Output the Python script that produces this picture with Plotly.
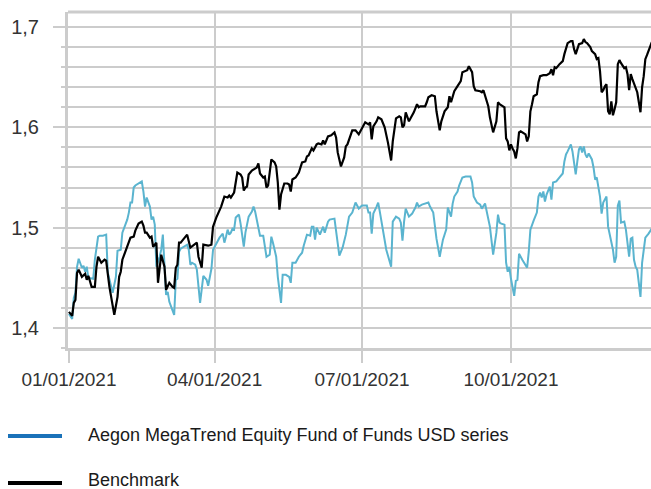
import plotly.graph_objects as go

# ---------------- data ----------------
BENCHMARK = [
    ("2021-01-01", 1.416), ("2021-01-03", 1.412), ("2021-01-04", 1.425), ("2021-01-05", 1.428),
    ("2021-01-06", 1.455), ("2021-01-07", 1.458), ("2021-01-09", 1.451), ("2021-01-11", 1.454),
    ("2021-01-12", 1.448), ("2021-01-13", 1.452), ("2021-01-15", 1.441), ("2021-01-17", 1.441),
    ("2021-01-18", 1.461), ("2021-01-19", 1.471), ("2021-01-21", 1.465), ("2021-01-23", 1.468),
    ("2021-01-24", 1.467), ("2021-01-26", 1.441), ("2021-01-29", 1.413), ("2021-01-31", 1.431),
    ("2021-02-01", 1.451), ("2021-02-02", 1.456), ("2021-02-03", 1.468), ("2021-02-06", 1.480),
    ("2021-02-08", 1.490), ("2021-02-10", 1.491), ("2021-02-11", 1.497), ("2021-02-13", 1.504),
    ("2021-02-15", 1.506), ("2021-02-16", 1.502), ("2021-02-17", 1.495), ("2021-02-18", 1.495),
    ("2021-02-20", 1.490), ("2021-02-21", 1.491), ("2021-02-22", 1.481), ("2021-02-24", 1.485),
    ("2021-02-25", 1.445), ("2021-02-27", 1.473), ("2021-03-01", 1.461), ("2021-03-02", 1.438),
    ("2021-03-04", 1.445), ("2021-03-06", 1.441), ("2021-03-07", 1.440), ("2021-03-08", 1.460),
    ("2021-03-09", 1.463), ("2021-03-10", 1.485), ("2021-03-11", 1.485), ("2021-03-12", 1.487),
    ("2021-03-15", 1.493), ("2021-03-17", 1.480), ("2021-03-19", 1.483), ("2021-03-21", 1.485),
    ("2021-03-22", 1.471), ("2021-03-24", 1.460), ("2021-03-25", 1.483), ("2021-03-28", 1.482),
    ("2021-03-30", 1.483), ("2021-03-31", 1.501), ("2021-04-02", 1.510), ("2021-04-05", 1.521),
    ("2021-04-07", 1.531), ("2021-04-09", 1.530), ("2021-04-10", 1.532), ("2021-04-11", 1.530),
    ("2021-04-13", 1.535), ("2021-04-14", 1.546), ("2021-04-15", 1.555), ("2021-04-17", 1.553),
    ("2021-04-18", 1.550), ("2021-04-19", 1.537), ("2021-04-20", 1.540), ("2021-04-21", 1.541),
    ("2021-04-22", 1.553), ("2021-04-24", 1.557), ("2021-04-25", 1.558), ("2021-04-27", 1.560),
    ("2021-04-28", 1.564), ("2021-04-29", 1.554), ("2021-04-30", 1.552), ("2021-05-01", 1.550),
    ("2021-05-02", 1.551), ("2021-05-03", 1.540), ("2021-05-04", 1.542), ("2021-05-05", 1.555),
    ("2021-05-06", 1.568), ("2021-05-08", 1.565), ("2021-05-09", 1.561), ("2021-05-10", 1.545),
    ("2021-05-11", 1.518), ("2021-05-12", 1.533), ("2021-05-14", 1.544), ("2021-05-16", 1.544),
    ("2021-05-17", 1.543), ("2021-05-18", 1.536), ("2021-05-19", 1.548), ("2021-05-21", 1.550),
    ("2021-05-23", 1.555), ("2021-05-24", 1.560), ("2021-05-25", 1.565), ("2021-05-27", 1.566),
    ("2021-05-28", 1.571), ("2021-05-29", 1.572), ("2021-05-30", 1.575), ("2021-05-31", 1.579),
    ("2021-06-01", 1.577), ("2021-06-03", 1.583), ("2021-06-04", 1.584), ("2021-06-06", 1.583),
    ("2021-06-07", 1.587), ("2021-06-08", 1.583), ("2021-06-10", 1.591), ("2021-06-12", 1.592),
    ("2021-06-14", 1.595), ("2021-06-15", 1.590), ("2021-06-16", 1.575), ("2021-06-18", 1.561),
    ("2021-06-20", 1.570), ("2021-06-21", 1.581), ("2021-06-22", 1.583), ("2021-06-24", 1.594),
    ("2021-06-25", 1.597), ("2021-06-27", 1.597), ("2021-06-29", 1.593), ("2021-07-01", 1.599),
    ("2021-07-02", 1.603), ("2021-07-03", 1.605), ("2021-07-05", 1.603), ("2021-07-06", 1.605),
    ("2021-07-07", 1.588), ("2021-07-08", 1.601), ("2021-07-10", 1.606), ("2021-07-11", 1.610),
    ("2021-07-13", 1.608), ("2021-07-15", 1.600), ("2021-07-17", 1.585), ("2021-07-19", 1.567),
    ("2021-07-20", 1.586), ("2021-07-21", 1.596), ("2021-07-22", 1.609), ("2021-07-24", 1.611),
    ("2021-07-25", 1.610), ("2021-07-26", 1.600), ("2021-07-27", 1.602), ("2021-07-28", 1.615),
    ("2021-07-30", 1.606), ("2021-07-31", 1.609), ("2021-08-01", 1.612), ("2021-08-02", 1.615),
    ("2021-08-04", 1.623), ("2021-08-05", 1.620), ("2021-08-06", 1.621), ("2021-08-09", 1.621),
    ("2021-08-10", 1.625), ("2021-08-11", 1.630), ("2021-08-13", 1.632), ("2021-08-15", 1.631),
    ("2021-08-16", 1.616), ("2021-08-18", 1.597), ("2021-08-19", 1.606), ("2021-08-21", 1.616),
    ("2021-08-23", 1.620), ("2021-08-24", 1.631), ("2021-08-25", 1.625), ("2021-08-26", 1.632),
    ("2021-08-27", 1.636), ("2021-08-29", 1.641), ("2021-08-31", 1.646), ("2021-09-01", 1.655),
    ("2021-09-04", 1.657), ("2021-09-05", 1.661), ("2021-09-07", 1.655), ("2021-09-08", 1.641),
    ("2021-09-09", 1.637), ("2021-09-12", 1.636), ("2021-09-13", 1.635), ("2021-09-14", 1.637),
    ("2021-09-15", 1.632), ("2021-09-17", 1.621), ("2021-09-18", 1.610), ("2021-09-20", 1.595),
    ("2021-09-22", 1.606), ("2021-09-23", 1.625), ("2021-09-24", 1.623), ("2021-09-27", 1.620),
    ("2021-09-28", 1.589), ("2021-09-29", 1.586), ("2021-09-30", 1.577), ("2021-10-01", 1.583),
    ("2021-10-02", 1.579), ("2021-10-03", 1.576), ("2021-10-04", 1.569), ("2021-10-05", 1.579),
    ("2021-10-06", 1.595), ("2021-10-07", 1.596), ("2021-10-10", 1.593), ("2021-10-11", 1.586),
    ("2021-10-12", 1.591), ("2021-10-13", 1.616), ("2021-10-14", 1.623), ("2021-10-15", 1.631),
    ("2021-10-17", 1.633), ("2021-10-18", 1.645), ("2021-10-19", 1.651), ("2021-10-21", 1.652),
    ("2021-10-23", 1.652), ("2021-10-25", 1.654), ("2021-10-26", 1.658), ("2021-10-27", 1.652),
    ("2021-10-28", 1.660), ("2021-10-29", 1.659), ("2021-10-31", 1.663), ("2021-11-02", 1.666),
    ("2021-11-03", 1.673), ("2021-11-04", 1.679), ("2021-11-05", 1.684), ("2021-11-07", 1.686),
    ("2021-11-08", 1.686), ("2021-11-09", 1.678), ("2021-11-10", 1.673), ("2021-11-11", 1.678),
    ("2021-11-12", 1.683), ("2021-11-14", 1.684), ("2021-11-15", 1.688), ("2021-11-16", 1.685),
    ("2021-11-17", 1.684), ("2021-11-19", 1.680), ("2021-11-20", 1.676), ("2021-11-22", 1.673),
    ("2021-11-23", 1.668), ("2021-11-24", 1.669), ("2021-11-25", 1.656), ("2021-11-26", 1.635),
    ("2021-11-27", 1.637), ("2021-11-28", 1.641), ("2021-11-29", 1.643), ("2021-11-30", 1.616),
    ("2021-12-01", 1.613), ("2021-12-02", 1.626), ("2021-12-03", 1.612), ("2021-12-04", 1.618),
    ("2021-12-05", 1.625), ("2021-12-06", 1.663), ("2021-12-07", 1.667), ("2021-12-08", 1.664),
    ("2021-12-10", 1.659), ("2021-12-11", 1.660), ("2021-12-12", 1.653), ("2021-12-13", 1.637),
    ("2021-12-14", 1.653), ("2021-12-15", 1.648), ("2021-12-18", 1.635), ("2021-12-20", 1.615),
    ("2021-12-21", 1.640), ("2021-12-22", 1.651), ("2021-12-23", 1.668), ("2021-12-24", 1.672),
    ("2021-12-26", 1.681), ("2021-12-27", 1.685),
]

FUND = [
    ("2021-01-01", 1.414), ("2021-01-03", 1.409), ("2021-01-04", 1.430), ("2021-01-05", 1.435),
    ("2021-01-06", 1.461), ("2021-01-07", 1.469), ("2021-01-09", 1.460), ("2021-01-10", 1.462),
    ("2021-01-11", 1.456), ("2021-01-12", 1.461), ("2021-01-13", 1.450), ("2021-01-16", 1.449),
    ("2021-01-17", 1.468), ("2021-01-19", 1.491), ("2021-01-20", 1.492), ("2021-01-22", 1.492),
    ("2021-01-24", 1.493), ("2021-01-25", 1.455), ("2021-01-28", 1.435), ("2021-01-30", 1.451),
    ("2021-01-31", 1.477), ("2021-02-02", 1.478), ("2021-02-03", 1.495), ("2021-02-06", 1.508),
    ("2021-02-07", 1.515), ("2021-02-08", 1.525), ("2021-02-09", 1.525), ("2021-02-10", 1.540),
    ("2021-02-11", 1.542), ("2021-02-13", 1.544), ("2021-02-15", 1.546), ("2021-02-16", 1.536),
    ("2021-02-17", 1.521), ("2021-02-18", 1.530), ("2021-02-20", 1.521), ("2021-02-21", 1.508),
    ("2021-02-22", 1.511), ("2021-02-23", 1.503), ("2021-02-24", 1.461), ("2021-02-26", 1.471),
    ("2021-02-27", 1.478), ("2021-02-28", 1.493), ("2021-03-01", 1.455), ("2021-03-02", 1.433),
    ("2021-03-03", 1.436), ("2021-03-04", 1.426), ("2021-03-07", 1.413), ("2021-03-08", 1.448),
    ("2021-03-09", 1.449), ("2021-03-10", 1.476), ("2021-03-11", 1.479), ("2021-03-13", 1.481),
    ("2021-03-15", 1.483), ("2021-03-16", 1.478), ("2021-03-17", 1.463), ("2021-03-18", 1.465),
    ("2021-03-20", 1.463), ("2021-03-21", 1.458), ("2021-03-22", 1.443), ("2021-03-23", 1.425),
    ("2021-03-25", 1.452), ("2021-03-27", 1.448), ("2021-03-28", 1.442), ("2021-03-30", 1.459),
    ("2021-03-31", 1.478), ("2021-04-02", 1.484), ("2021-04-04", 1.490), ("2021-04-06", 1.494),
    ("2021-04-07", 1.485), ("2021-04-08", 1.491), ("2021-04-09", 1.498), ("2021-04-10", 1.493),
    ("2021-04-11", 1.495), ("2021-04-12", 1.499), ("2021-04-13", 1.498), ("2021-04-14", 1.510),
    ("2021-04-16", 1.513), ("2021-04-17", 1.504), ("2021-04-19", 1.481), ("2021-04-20", 1.495),
    ("2021-04-22", 1.511), ("2021-04-24", 1.516), ("2021-04-25", 1.521), ("2021-04-26", 1.516),
    ("2021-04-28", 1.501), ("2021-04-29", 1.492), ("2021-05-01", 1.492), ("2021-05-03", 1.471),
    ("2021-05-05", 1.473), ("2021-05-06", 1.491), ("2021-05-07", 1.485), ("2021-05-09", 1.471),
    ("2021-05-10", 1.451), ("2021-05-12", 1.425), ("2021-05-13", 1.453), ("2021-05-15", 1.453),
    ("2021-05-17", 1.451), ("2021-05-18", 1.445), ("2021-05-19", 1.465), ("2021-05-21", 1.465),
    ("2021-05-23", 1.471), ("2021-05-25", 1.475), ("2021-05-26", 1.482), ("2021-05-27", 1.487),
    ("2021-05-28", 1.493), ("2021-05-30", 1.492), ("2021-05-31", 1.501), ("2021-06-01", 1.501),
    ("2021-06-02", 1.488), ("2021-06-03", 1.500), ("2021-06-05", 1.493), ("2021-06-07", 1.501),
    ("2021-06-08", 1.495), ("2021-06-10", 1.506), ("2021-06-11", 1.508), ("2021-06-14", 1.509),
    ("2021-06-15", 1.495), ("2021-06-16", 1.483), ("2021-06-17", 1.472), ("2021-06-19", 1.480),
    ("2021-06-20", 1.486), ("2021-06-21", 1.493), ("2021-06-23", 1.511), ("2021-06-25", 1.515),
    ("2021-06-27", 1.525), ("2021-06-29", 1.519), ("2021-07-01", 1.522), ("2021-07-04", 1.522),
    ("2021-07-05", 1.515), ("2021-07-06", 1.515), ("2021-07-07", 1.494), ("2021-07-08", 1.514),
    ("2021-07-10", 1.521), ("2021-07-11", 1.525), ("2021-07-12", 1.516), ("2021-07-14", 1.498),
    ("2021-07-16", 1.478), ("2021-07-19", 1.461), ("2021-07-20", 1.506), ("2021-07-22", 1.511),
    ("2021-07-24", 1.509), ("2021-07-25", 1.505), ("2021-07-26", 1.487), ("2021-07-27", 1.506),
    ("2021-07-28", 1.519), ("2021-07-30", 1.511), ("2021-08-01", 1.514), ("2021-08-02", 1.517),
    ("2021-08-03", 1.520), ("2021-08-04", 1.525), ("2021-08-05", 1.521), ("2021-08-07", 1.523),
    ("2021-08-09", 1.524), ("2021-08-11", 1.525), ("2021-08-12", 1.521), ("2021-08-14", 1.515),
    ("2021-08-16", 1.489), ("2021-08-18", 1.471), ("2021-08-20", 1.488), ("2021-08-22", 1.498),
    ("2021-08-23", 1.520), ("2021-08-25", 1.511), ("2021-08-26", 1.524), ("2021-08-27", 1.531),
    ("2021-08-29", 1.536), ("2021-08-30", 1.542), ("2021-09-01", 1.550), ("2021-09-03", 1.551),
    ("2021-09-06", 1.551), ("2021-09-07", 1.545), ("2021-09-08", 1.531), ("2021-09-10", 1.525),
    ("2021-09-12", 1.523), ("2021-09-13", 1.519), ("2021-09-15", 1.524), ("2021-09-16", 1.516),
    ("2021-09-18", 1.501), ("2021-09-20", 1.473), ("2021-09-22", 1.495), ("2021-09-23", 1.513),
    ("2021-09-24", 1.505), ("2021-09-25", 1.504), ("2021-09-27", 1.503), ("2021-09-28", 1.465),
    ("2021-09-29", 1.456), ("2021-09-30", 1.461), ("2021-10-01", 1.449), ("2021-10-03", 1.432),
    ("2021-10-04", 1.447), ("2021-10-05", 1.448), ("2021-10-06", 1.474), ("2021-10-08", 1.468),
    ("2021-10-11", 1.460), ("2021-10-12", 1.476), ("2021-10-13", 1.498), ("2021-10-15", 1.507),
    ("2021-10-17", 1.515), ("2021-10-18", 1.531), ("2021-10-19", 1.535), ("2021-10-20", 1.530),
    ("2021-10-21", 1.536), ("2021-10-22", 1.526), ("2021-10-23", 1.533), ("2021-10-25", 1.541),
    ("2021-10-26", 1.528), ("2021-10-27", 1.545), ("2021-10-29", 1.546), ("2021-10-31", 1.550),
    ("2021-11-02", 1.554), ("2021-11-03", 1.566), ("2021-11-04", 1.573), ("2021-11-05", 1.576),
    ("2021-11-07", 1.583), ("2021-11-08", 1.576), ("2021-11-09", 1.565), ("2021-11-10", 1.553),
    ("2021-11-11", 1.566), ("2021-11-12", 1.578), ("2021-11-13", 1.581), ("2021-11-14", 1.575),
    ("2021-11-15", 1.581), ("2021-11-16", 1.573), ("2021-11-17", 1.570), ("2021-11-18", 1.574),
    ("2021-11-20", 1.568), ("2021-11-21", 1.560), ("2021-11-22", 1.548), ("2021-11-23", 1.550),
    ("2021-11-25", 1.531), ("2021-11-26", 1.514), ("2021-11-27", 1.525), ("2021-11-29", 1.531),
    ("2021-11-30", 1.501), ("2021-12-01", 1.493), ("2021-12-02", 1.485), ("2021-12-03", 1.478),
    ("2021-12-04", 1.465), ("2021-12-05", 1.471), ("2021-12-06", 1.522), ("2021-12-07", 1.527),
    ("2021-12-08", 1.505), ("2021-12-10", 1.506), ("2021-12-11", 1.498), ("2021-12-12", 1.485),
    ("2021-12-13", 1.471), ("2021-12-14", 1.489), ("2021-12-15", 1.490), ("2021-12-16", 1.468),
    ("2021-12-17", 1.461), ("2021-12-18", 1.458), ("2021-12-20", 1.431), ("2021-12-21", 1.465),
    ("2021-12-22", 1.480), ("2021-12-23", 1.490), ("2021-12-25", 1.494), ("2021-12-27", 1.499),
]

bench_dates = [d for d, _ in BENCHMARK]
bench_values = [v for _, v in BENCHMARK]
fund_dates = [d for d, _ in FUND]
fund_values = [v for _, v in FUND]

x_tick_dates = ["2021-01-01", "2021-04-01", "2021-07-01", "2021-10-01"]
x_tick_labels = ["01/01/2021", "04/01/2021", "07/01/2021", "10/01/2021"]
y_tick_values = [1.4, 1.5, 1.6, 1.7]

series_names = ["Aegon MegaTrend Equity Fund of Funds USD series", "Benchmark"]

# ---------------- styling ----------------
W, H = 651, 489
ML, MR, MT, MB = 68, 0, 12, 141
GRID = "#cccccc"
FUND_LINE = "#5ab4cf"
FUND_LEGEND = "#1a72b9"
TEXT = "#333333"
FONT = "Liberation Sans, Arial, sans-serif"

pw = W - ML - MR
ph = H - MT - MB


def px_to_paper_x(px):
    return (px - ML) / pw


def px_to_paper_y(py):
    return (H - MB - py) / ph


fig = go.Figure()
fig.add_trace(go.Scatter(x=fund_dates, y=fund_values, mode="lines",
                         line=dict(color=FUND_LINE, width=2), name=series_names[0],
                         showlegend=False))
fig.add_trace(go.Scatter(x=bench_dates, y=bench_values, mode="lines",
                         line=dict(color="#000000", width=2.2), name=series_names[1],
                         showlegend=False))

shapes = [
    # top frame line
    dict(type="line", xref="paper", yref="paper", x0=0, x1=1, y0=1, y1=1,
         line=dict(color=GRID, width=3)),
    # legend swatches
    dict(type="line", xref="paper", yref="paper",
         x0=px_to_paper_x(8), x1=px_to_paper_x(62),
         y0=px_to_paper_y(436), y1=px_to_paper_y(436),
         line=dict(color=FUND_LEGEND, width=4)),
    dict(type="line", xref="paper", yref="paper",
         x0=px_to_paper_x(8), x1=px_to_paper_x(62),
         y0=px_to_paper_y(483), y1=px_to_paper_y(483),
         line=dict(color="#000000", width=4)),
]

annotations = [
    dict(text=series_names[0], xref="paper", yref="paper",
         x=px_to_paper_x(86), y=px_to_paper_y(435), xanchor="left", yanchor="middle",
         showarrow=False, font=dict(family=FONT, size=18, color="#1a1a1a")),
    dict(text=series_names[1], xref="paper", yref="paper",
         x=px_to_paper_x(86), y=px_to_paper_y(480), xanchor="left", yanchor="middle",
         showarrow=False, font=dict(family=FONT, size=18, color="#1a1a1a")),
]

fig.update_layout(
    width=W, height=H,
    margin=dict(l=ML, r=MR, t=MT, b=MB, pad=0, autoexpand=False),
    paper_bgcolor="white", plot_bgcolor="white",
    separators=",.",
    font=dict(family=FONT, color=TEXT),
    shapes=shapes, annotations=annotations,
    showlegend=False,
    hovermode=False,
    xaxis=dict(
        type="date", automargin=False,
        range=["2020-12-31 10:00", "2021-12-26 12:00"],
        tickvals=x_tick_dates, ticktext=x_tick_labels,
        tickfont=dict(size=19, color=TEXT, family=FONT),
        showgrid=True, gridcolor=GRID, gridwidth=2,
        ticks="outside", ticklen=12, tickwidth=2, tickcolor=GRID,
        showline=True, linecolor=GRID, linewidth=3,
        zeroline=False,
    ),
    yaxis=dict(
        automargin=False,
        range=[1.38, 1.715],
        tickvals=y_tick_values, tickformat=".1f",
        tickfont=dict(size=20, color=TEXT, family=FONT),
        showgrid=True, gridcolor=GRID, gridwidth=2,
        ticks="outside", ticklen=12, tickwidth=2, tickcolor=GRID,
        ticklabelstandoff=10,
        showline=True, linecolor=GRID, linewidth=3,
        zeroline=False,
        minor=dict(dtick=0.02, tick0=1.38, showgrid=True, gridcolor=GRID, gridwidth=2,
                   ticks="outside", ticklen=4, tickwidth=2, tickcolor=GRID),
    ),
)

fig.write_html(
    "out.html",
    config={"displayModeBar": False, "staticPlot": True},
    post_script=(
        "document.body.style.margin='0';"
        "document.body.style.overflow='hidden';"
        "document.documentElement.style.overflow='hidden';"
    ),
)
